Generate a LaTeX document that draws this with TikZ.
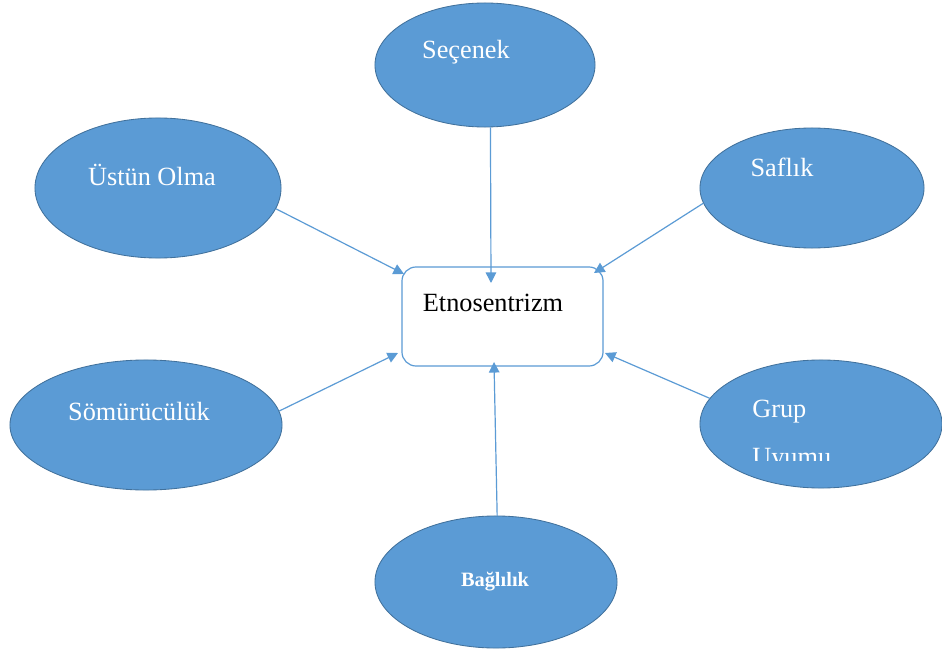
\documentclass[tikz,border=0pt]{standalone}
\usepackage{fontspec}
\setmainfont{Liberation Serif}
\usetikzlibrary{shapes.geometric,arrows.meta}
\definecolor{officeblue}{HTML}{5B9BD5}
\definecolor{officeedge}{HTML}{41719C}
\begin{document}
\begin{tikzpicture}[x=0.025cm,y=-0.025cm,
  bubble/.style={ellipse,draw=officeedge,line width=0.6pt,fill=officeblue,inner sep=0pt},
  wlabel/.style={text=white,font=\fontsize{18.7}{22}\selectfont,inner sep=0pt},
  link/.style={draw=officeblue,line width=0.85pt,-{Triangle[length=7.5pt,width=7.5pt]}}]
\useasboundingbox (0,0) rectangle (942,650);
\fill[white] (0,0) rectangle (942,650);

% central box
\node[draw=officeblue,line width=0.85pt,rounded corners=10pt,minimum width=5.025cm,minimum height=2.475cm,inner sep=0pt] (box) at (502.5,316.5) {};
\node[font=\fontsize{18.7}{22}\selectfont,inner sep=0pt] (etno) at (493,303) {Etnosentrizm};

% outer ellipses
\node[bubble,minimum width=5.5cm,minimum height=3.1cm] (sec) at (485,65) {};
\node[bubble,minimum width=6.15cm,minimum height=3.5cm] (ust) at (158,188) {};
\node[bubble,minimum width=5.6cm,minimum height=3.0cm] (saf) at (812,188) {};
\node[bubble,minimum width=6.8cm,minimum height=3.25cm] (som) at (146,425) {};
\node[bubble,minimum width=6.05cm,minimum height=3.2cm] (grp) at (821,424) {};
\node[bubble,minimum width=6.05cm,minimum height=3.3cm] (bag) at (496,582) {};

% ellipse labels
\node[wlabel] (secT) at (466,52) {Seçenek};
\node[wlabel] (ustT) at (152,175) {Üstün Olma};
\node[wlabel] (safT) at (782,167) {Saflık};
\node[wlabel] (somT) at (139,412) {Sömürücülük};
\node[wlabel,anchor=base west] (grpT) at (752,417) {Grup};
\begin{scope}
  \clip (700,380) rectangle (942,460);
  \node[wlabel,anchor=base west] (grpU) at (752,465) {Uyumu};
\end{scope}
\node[wlabel,font=\fontsize{14.5}{17}\selectfont\bfseries] (bagT) at (495,582) {Bağlılık};

% arrow tips on the box
\coordinate (tSec) at (491,283);
\coordinate (tUst) at (404,274);
\coordinate (tSaf) at (594,273);
\coordinate (tSom) at (398,353);
\coordinate (tGrp) at (605,353);
\coordinate (tBag) at (494,362);

% connectors
\draw[link] (sec.-85) -- (tSec);
\draw[link] (ust.-10) -- (tUst);
\draw[link] (saf.188) -- (tSaf);
\draw[link] (som.6) -- (tSom);
\draw[link] (grp.167) -- (tGrp);
\draw[link] (bag.89) -- (tBag);
\end{tikzpicture}
\end{document}
